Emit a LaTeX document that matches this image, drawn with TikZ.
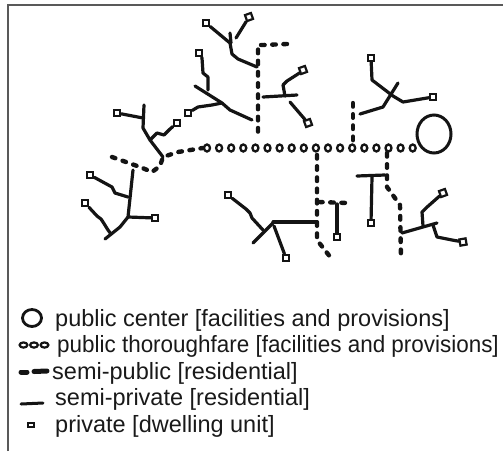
\documentclass[tikz,border=0pt]{standalone}
\usepackage{fontspec}
\setmainfont{Liberation Sans}
\usetikzlibrary{shapes.geometric}
\begin{document}
\begin{tikzpicture}[x=1pt,y=-1pt,
  ink/.style={draw=black!92},
  semipriv/.style={ink, line width=3.2pt, line cap=round, line join=round},
  semipub/.style={ink, line width=4.4pt, line cap=round, line join=round, dash pattern=on 3.6pt off 7.6pt},
  unit/.style={ink, fill=white, rectangle, line width=2.2pt, minimum size=6.3pt, inner sep=0pt},
  thru/.style={ink, ellipse, line width=2.3pt, minimum width=6pt, minimum height=7pt, inner sep=0pt},
  legtext/.style={anchor=base west, inner sep=0pt, text=black!90, font=\fontsize{23.5}{27}\selectfont}
]
\useasboundingbox (0,0) rectangle (503,451);
% frame
\draw[black!65, line width=1.5pt] (8,451) -- (8,5) -- (503,5);

% ---------- public center and thoroughfare ----------
\node[ink, ellipse, line width=3pt, minimum width=34pt, minimum height=38pt, inner sep=0pt] (center) at (434,134) {};
\foreach \i in {0,...,17}
  \node[thru] (t\i) at ({207+12.1*\i},148) {};

% ---------- dwelling units ----------
\node[unit] (uA1) at (117,113) {};
\node[unit] (uA2) at (177,123) {};
\node[unit] (uB1) at (199,53) {};
\node[unit] (uB2) at (188,113) {};
\node[unit] (uC1) at (206,23) {};
\node[unit, rotate=20] (uC2) at (249,17) {};
\node[unit, rotate=20] (uD1) at (303,70) {};
\node[unit, rotate=20] (uD2) at (308,123) {};
\node[unit] (uE1) at (371,58) {};
\node[unit] (uE2) at (433,97) {};
\node[unit] (uF1) at (228,195) {};
\node[unit] (uF2) at (286,258) {};
\node[unit] (uG) at (337,237) {};
\node[unit] (uH) at (371,223) {};
\node[unit, rotate=20] (uI1) at (443,193) {};
\node[unit, rotate=10] (uI2) at (463,242) {};
\node[unit] (uJ1) at (90,175) {};
\node[unit] (uJ2) at (85,203) {};
\node[unit] (uJ3) at (155,218) {};

% ---------- junction points ----------
\coordinate (wA) at (112,157);
\coordinate (jA) at (163,157);
\coordinate (jB) at (222,103);
\coordinate (vTop) at (258,45);
\coordinate (vBot) at (258,138);
\coordinate (jC) at (257,67);
\coordinate (jD) at (263,97);
\coordinate (vE) at (353,103);
\coordinate (jE) at (360,114);
\coordinate (vF) at (317,155);
\coordinate (jF) at (317,222);
\coordinate (jG) at (319,202);
\coordinate (vH) at (387,153);
\coordinate (jH) at (385,175);
\coordinate (jI) at (402,233);
\coordinate (jJ) at (133,170);

% ---------- semi-public ways ----------
\draw[semipub] (wA) -- (140,167) -- (152,172) -- (160,166) -- (jA) -- (178,152) -- (t0.west);
\draw[semipub] (287,44) -- (263,45) -- (vTop) -- (vBot);
\draw[semipub] (vE) -- (353,141);
\draw[semipub] (vF) -- (317,240) -- (331,258);
\draw[semipub] (jG) -- (348,203);
\draw[semipub] (vH) -- (387,187) -- (400,205) -- (401,258);

% ---------- semi-private ways ----------
% branch A
\draw[semipriv] (uA1) -- (143,118);
\draw[semipriv] (144,105) -- (143,128) -- (150,140) -- (jA);
\draw[semipriv] (150,140) -- (157,133) -- (164,135) -- (170,129) -- (uA2);
% branch B
\draw[semipriv] (195,86) -- (jB) -- (230,110) -- (252,120);
\draw[semipriv] (208,90) -- (208,77) -- (203,73) -- (202,58) -- (uB1);
\draw[semipriv] (jB) -- (212,105) -- (205,106) -- (198,107) -- (uB2);
% branch C
\draw[semipriv] (uC1) -- (230,43) -- (232,54) -- (238,59) -- (jC);
\draw[semipriv] (230,33) -- (231,43);
\draw[semipriv] (uC2) -- (236,38);
% branch D
\draw[semipriv] (jD) -- (297,95);
\draw[semipriv] (285,96) -- (283,85) -- (287,81) -- (298,74) -- (uD1);
\draw[semipriv] (290,102) -- (uD2);
% branch E
\draw[semipriv] (uE1) -- (372,80) -- (393,96) -- (403,102) -- (uE2);
\draw[semipriv] (jE) -- (383,107) -- (398,83);
% branch F
\draw[semipriv] (273,222) -- (jF);
\draw[semipriv] (273,223) -- (253,243);
\draw[semipriv] (uF1) -- (246,209) -- (250,213) -- (252,218) -- (263,230);
\draw[semipriv] (274,226) -- (uF2);
% branch G
\draw[semipriv] (337,204) -- (uG);
% branch H
\draw[semipriv] (357,176) -- (jH);
\draw[semipriv] (372,177) -- (uH);
% branch I
\draw[semipriv] (jI) -- (437,223);
\draw[semipriv] (423,226) -- (422,212) -- (426,208) -- (uI1);
\draw[semipriv] (433,225) -- (437,237) -- (452,240) -- (uI2);
% branch J
\draw[semipriv] (jJ) -- (128,217) -- (120,227) -- (105,239);
\draw[semipriv] (uJ1) -- (112,187) -- (115,193) -- (128,197);
\draw[semipriv] (uJ2) -- (97,216) -- (101,219) -- (103,222) -- (108,230) -- (111,234);
\draw[semipriv] (128,217) -- (uJ3);

% ---------- legend ----------
\node[ink, ellipse, line width=2.8pt, minimum width=19pt, minimum height=17pt, inner sep=0pt] (kCenter) at (32,318) {};
\foreach \x [count=\k] in {23.5,34,44.5}
  \node[ink, ellipse, line width=2.2pt, minimum width=7.8pt, minimum height=5.2pt, inner sep=0pt] (kThru\k) at (\x,345) {};
\draw[ink, line width=5pt, line cap=round] (21,372) -- (27,372);
\draw[ink, line width=5pt, line cap=round] (34,371.5) -- (47,371);
\draw[ink, line width=3pt, line cap=round] (21,404) -- (43,403);
\node[ink, rectangle, line width=1.8pt, minimum width=6pt, minimum height=4pt, inner sep=0pt] (kUnit) at (31,425) {};

\node[legtext] (l1) at (55,326) {public center [facilities and provisions]};
\node[legtext] (l2) at (57,352.5) {\scalebox{0.955}[1]{public thoroughfare [facilities and provisions]}};
\node[legtext] (l3) at (52,379) {semi-public [residential]};
\node[legtext] (l4) at (55,405.5) {semi-private [residential]};
\node[legtext] (l5) at (55,432) {private [dwelling unit]};
\end{tikzpicture}
\end{document}
